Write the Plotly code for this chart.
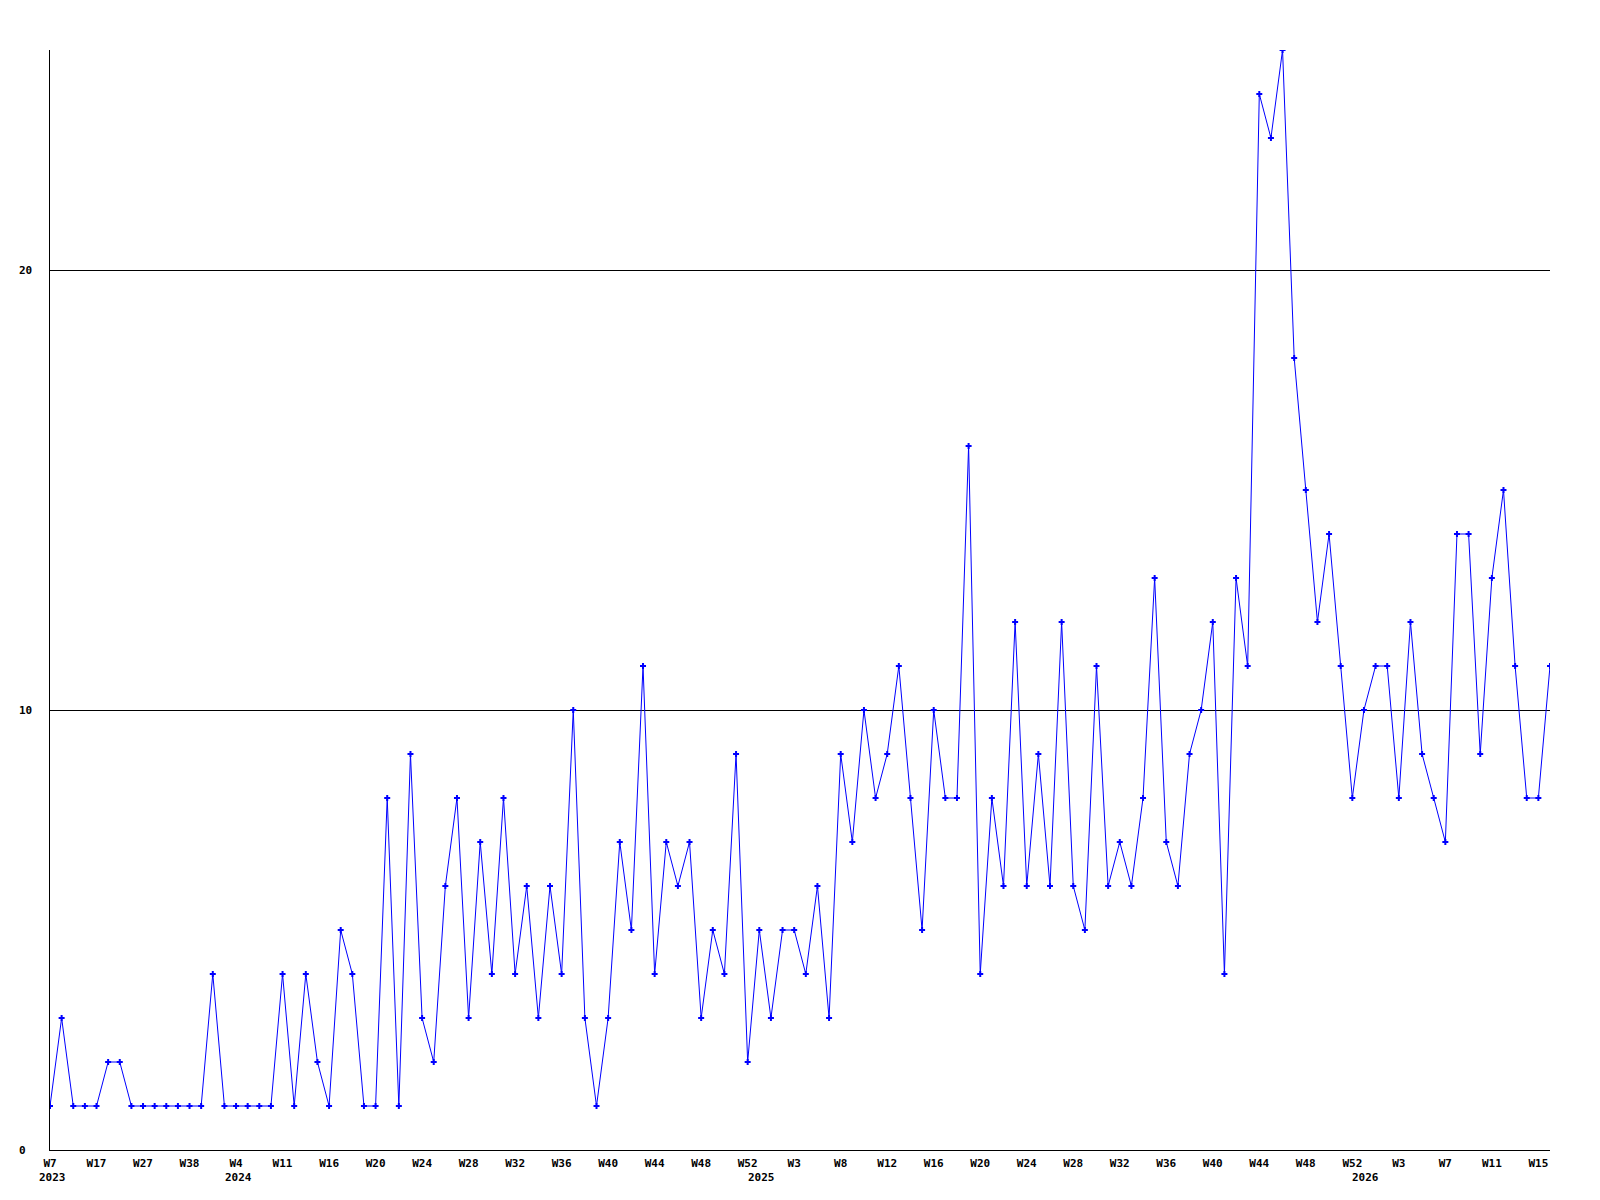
import plotly.graph_objects as go

# weekly counts, in order of the points on the chart
values = [
    1, 3, 1, 1, 1, 2, 2, 1, 1, 1, 1, 1, 1, 1, 4, 1, 1, 1, 1, 1,
    4, 1, 4, 2, 1, 5, 4, 1, 1, 8, 1, 9, 3, 2, 6, 8, 3, 7, 4, 8,
    4, 6, 3, 6, 4, 10, 3, 1, 3, 7, 5, 11, 4, 7, 6, 7, 3, 5, 4, 9,
    2, 5, 3, 5, 5, 4, 6, 3, 9, 7, 10, 8, 9, 11, 8, 5, 10, 8, 8, 16,
    4, 8, 6, 12, 6, 9, 6, 12, 6, 5, 11, 6, 7, 6, 8, 13, 7, 6, 9, 10,
    12, 4, 13, 11, 24, 23, 25, 18, 15, 12, 14, 11, 8, 10, 11, 11, 8, 12, 9, 8,
    7, 14, 14, 9, 13, 15, 11, 8, 8, 11,
]

# a week label is shown under every 4th point
week_labels = [
    "W7", "W17", "W27", "W38", "W4", "W11", "W16", "W20", "W24", "W28", "W32",
    "W36", "W40", "W44", "W48", "W52", "W3", "W8", "W12", "W16", "W20", "W24",
    "W28", "W32", "W36", "W40", "W44", "W48", "W52", "W3", "W7", "W11", "W15",
]
label_step = 4

# year labels: (index of the first point of that year, year)
year_marks = [(0, "2023"), (16, "2024"), (61, "2025"), (113, "2026")]

y_ticks = [0, 10, 20]

FONT = dict(family="DejaVu Sans Mono", size=11, color="black", weight="bold")

x = list(range(len(values)))
tick_pos = [i * label_step for i in range(len(week_labels))]

fig = go.Figure()
fig.add_trace(
    go.Scatter(
        x=x,
        y=values,
        mode="lines+markers",
        line=dict(color="#0000ff", width=1),
        marker=dict(symbol="cross", size=5, color="#0000ff", line=dict(width=0)),
        showlegend=False,
    )
)

# year labels under the week labels
for idx, year in year_marks:
    fig.add_annotation(
        x=idx, xref="x", y=0, yref="paper",
        text=year, showarrow=False, font=FONT,
        xanchor="center", yanchor="top", xshift=2, yshift=-19,
    )

# y labels sit at the left edge of the page
for v in y_ticks:
    fig.add_annotation(
        x=0, xref="paper", y=v, yref="y",
        text=str(v), showarrow=False, font=FONT,
        xanchor="left", yanchor="middle", xshift=-33,
    )

fig.update_xaxes(
    range=[0, len(values) - 1],
    tickvals=tick_pos,
    ticktext=week_labels,
    tickangle=0,
    tickfont=FONT,
    ticks="",
    ticklabelstandoff=3,
    showgrid=False,
    zeroline=False,
    showline=True,
    linecolor="black",
    linewidth=1,
)
fig.update_yaxes(
    range=[0, 25],
    tickvals=y_ticks,
    showticklabels=False,
    ticks="",
    showgrid=True,
    gridcolor="black",
    gridwidth=1,
    zeroline=False,
    showline=True,
    linecolor="black",
    linewidth=1,
)
# the page body adds 8px around the figure
fig.update_layout(
    width=1584,
    height=1184,
    margin=dict(l=42, r=42, t=42, b=42),
    paper_bgcolor="white",
    plot_bgcolor="white",
)

fig.write_html("out.html")
